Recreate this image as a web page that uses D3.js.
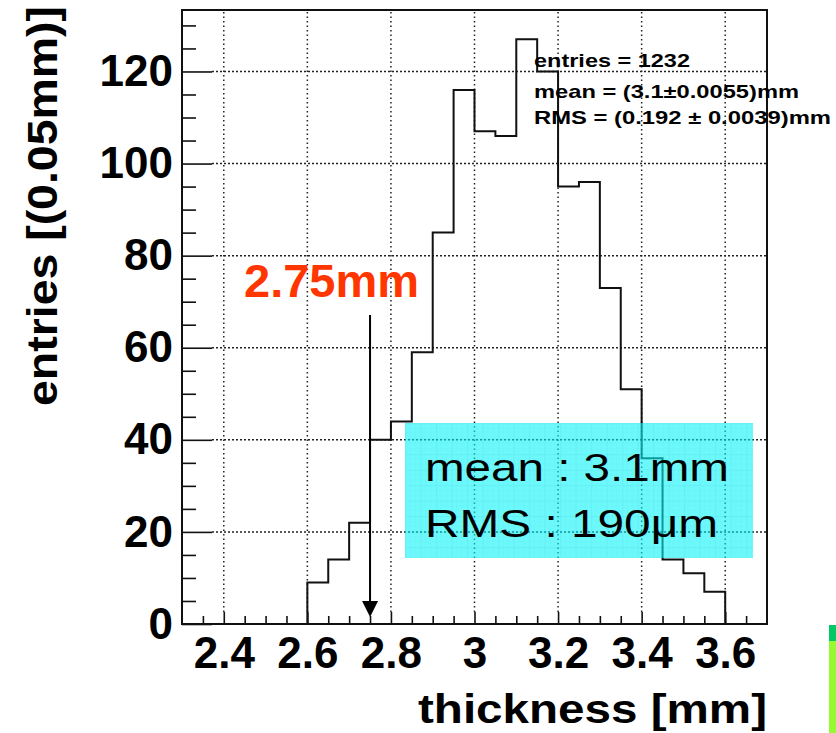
<!DOCTYPE html>
<html>
<head>
<meta charset="utf-8">
<script src="https://cdn.jsdelivr.net/npm/d3@7"></script>
<style>
  body { margin: 0; background: #fff; }
  svg { display: block; font-family: "Liberation Sans", Arial, sans-serif; }
</style>
</head>
<body>
<svg width="836" height="733"></svg>
<script>
// histogram of thickness, 0.05mm bins
var binStarts = [2.60, 2.65, 2.70, 2.75, 2.80, 2.85, 2.90, 2.95, 3.00, 3.05,
                 3.10, 3.15, 3.20, 3.25, 3.30, 3.35, 3.40, 3.45, 3.50, 3.55];
var counts = [9, 14, 22, 40, 44, 59, 85, 116, 107, 106,
              127, 120, 95, 96, 73, 51, 36, 14, 11, 7];
var binWidth = 0.05;

var xTicks = [2.4, 2.6, 2.8, 3.0, 3.2, 3.4, 3.6];
var xTickLabels = ["2.4", "2.6", "2.8", "3", "3.2", "3.4", "3.6"];
var yTicks = [0, 20, 40, 60, 80, 100, 120];

var statsLines = ["entries = 1232", "mean = (3.1\u00b10.0055)mm", "RMS = (0.192 \u00b1 0.0039)mm"];
var boxLines = ["mean : 3.1mm", "RMS : 190\u03bcm"];
var markValue = 2.75;

var svg = d3.select("svg");

var x = d3.scaleLinear().domain([2.3, 3.7]).range([182, 767]);
var y = d3.scaleLinear().domain([0, 133.35]).range([624, 10]);

// dotted grid
svg.append("g").selectAll("line")
  .data(xTicks)
  .enter().append("line")
    .attr("x1", function(d) { return x(d); })
    .attr("x2", function(d) { return x(d); })
    .attr("y1", y(0) - 12).attr("y2", 10)
    .attr("stroke", "#222").attr("stroke-width", 1.5)
    .attr("stroke-dasharray", "1.5,3");

svg.append("g").selectAll("line")
  .data(yTicks.slice(1))
  .enter().append("line")
    .attr("x1", 212).attr("x2", 767)
    .attr("y1", function(d) { return y(d); })
    .attr("y2", function(d) { return y(d); })
    .attr("stroke", "#222").attr("stroke-width", 1.5)
    .attr("stroke-dasharray", "2,2");

// axes: ticks point inward
var xMinor = d3.range(2.35, 3.70, 0.05).filter(function(v) {
  return Math.abs(Math.round(v * 5) - v * 5) > 0.01;
});
svg.append("g")
  .attr("transform", "translate(0," + y(0) + ")")
  .call(d3.axisBottom(x).tickValues(xMinor).tickSize(-8).tickFormat(""))
  .call(function(g) { g.select(".domain").remove(); });

svg.append("g")
  .attr("transform", "translate(0," + y(0) + ")")
  .call(d3.axisBottom(x).tickValues(xTicks).tickSize(-12).tickPadding(13)
    .tickFormat(function(d, i) { return xTickLabels[i]; }))
  .call(function(g) { g.select(".domain").remove(); })
  .selectAll("text")
    .attr("font-size", 44).attr("font-weight", "bold")
    .attr("font-family", "'Liberation Sans', Arial, sans-serif")
    .attr("fill", "#000");

var yMinor = d3.range(5, 133, 5).filter(function(v) { return v % 20 !== 0; });
svg.append("g")
  .attr("transform", "translate(182,0)")
  .call(d3.axisLeft(y).tickValues(yMinor).tickSize(-14).tickFormat(""))
  .call(function(g) { g.select(".domain").remove(); });

svg.append("g")
  .attr("transform", "translate(182,0)")
  .call(d3.axisLeft(y).tickValues(yTicks).tickSize(-30).tickPadding(9))
  .call(function(g) { g.select(".domain").remove(); })
  .selectAll("text")
    .attr("font-size", 44).attr("font-weight", "bold")
    .attr("font-family", "'Liberation Sans', Arial, sans-serif")
    .attr("fill", "#000");

svg.selectAll(".tick line").attr("stroke", "#111").attr("stroke-width", 1.6);

// histogram outline
var pts = [[x(binStarts[0]), y(0)]];
binStarts.forEach(function(b, i) {
  pts.push([x(b), y(counts[i])]);
  pts.push([x(b + binWidth), y(counts[i])]);
});
pts.push([x(binStarts[binStarts.length - 1] + binWidth), y(0)]);

svg.append("path")
  .attr("d", d3.line()(pts))
  .attr("fill", "none")
  .attr("stroke", "#111")
  .attr("stroke-width", 2);

// frame
svg.append("rect")
  .attr("x", 182).attr("y", 10)
  .attr("width", 767 - 182).attr("height", y(0) - 10)
  .attr("fill", "none").attr("stroke", "#111").attr("stroke-width", 2);

// axis titles
svg.append("text")
  .attr("transform", "translate(57,406) rotate(-90)")
  .attr("font-size", 42).attr("font-weight", "bold")
  .attr("textLength", 400).attr("lengthAdjust", "spacingAndGlyphs")
  .text("entries [(0.05mm)]");

svg.append("text")
  .attr("x", 418).attr("y", 723)
  .attr("font-size", 40).attr("font-weight", "bold")
  .attr("textLength", 349).attr("lengthAdjust", "spacingAndGlyphs")
  .text("thickness [mm]");

// stats text
var statsY = [67, 98, 124];
var statsW = [156, 265, 297];
svg.append("g").selectAll("text")
  .data(statsLines)
  .enter().append("text")
    .attr("x", 534)
    .attr("y", function(d, i) { return statsY[i]; })
    .attr("font-size", 19).attr("font-weight", "bold")
    .attr("textLength", function(d, i) { return statsW[i]; })
    .attr("lengthAdjust", "spacingAndGlyphs")
    .text(function(d) { return d; });

// cyan box
var defs = svg.append("defs");
var pat = defs.append("pattern")
  .attr("id", "cyangrid")
  .attr("patternUnits", "userSpaceOnUse")
  .attr("x", 405).attr("y", 423)
  .attr("width", 15.5).attr("height", 15.5);
pat.append("rect").attr("width", 15.5).attr("height", 15.5).attr("fill", "rgb(10,245,248)");
pat.append("path")
  .attr("d", "M5.2,0V15.5M10.3,0V15.5M0,5.2H15.5M0,10.3H15.5")
  .attr("stroke", "rgb(0,220,230)").attr("stroke-width", 0.6).attr("stroke-opacity", 0.5);
pat.append("path")
  .attr("d", "M0.5,0V15.5M0,0.5H15.5")
  .attr("stroke", "rgb(0,228,238)").attr("stroke-width", 1.2);

svg.append("rect")
  .attr("x", 405).attr("y", 423)
  .attr("width", 753 - 405).attr("height", 558 - 423)
  .attr("fill", "url(#cyangrid)")
  .attr("opacity", 0.6);

var boxY = [481, 537];
var boxW = [304, 293];
svg.append("g").selectAll("text")
  .data(boxLines)
  .enter().append("text")
    .attr("x", 425)
    .attr("y", function(d, i) { return boxY[i]; })
    .attr("font-size", 39)
    .attr("textLength", function(d, i) { return boxW[i]; })
    .attr("lengthAdjust", "spacingAndGlyphs")
    .text(function(d) { return d; });

// red marker label and arrow
svg.append("text")
  .attr("x", 244).attr("y", 297)
  .attr("font-size", 47).attr("font-weight", "bold")
  .attr("fill", "#ff3600")
  .text("2.75mm");

var ax = x(markValue);
svg.append("line")
  .attr("x1", ax).attr("x2", ax)
  .attr("y1", 315).attr("y2", 604)
  .attr("stroke", "#000").attr("stroke-width", 2);
svg.append("path")
  .attr("d", "M" + (ax - 8) + ",601L" + (ax + 8) + ",601L" + ax + ",617Z")
  .attr("fill", "#000");

// green slide decoration at bottom right
svg.append("rect").attr("x", 829).attr("y", 625).attr("width", 7).attr("height", 108)
  .attr("fill", "rgb(150,250,50)");
svg.append("rect").attr("x", 829).attr("y", 625).attr("width", 7).attr("height", 16)
  .attr("fill", "rgb(0,200,100)");
</script>
</body>
</html>
